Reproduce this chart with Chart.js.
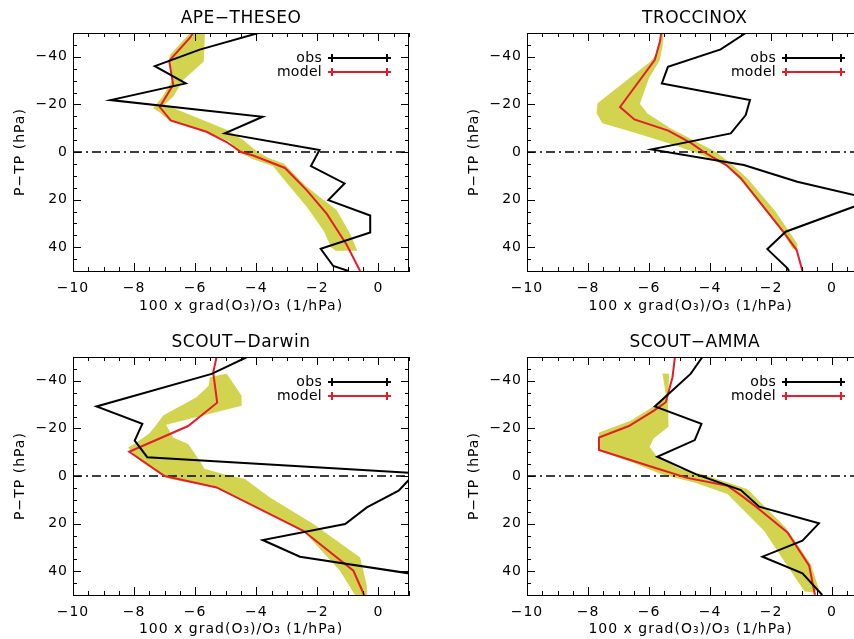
<!DOCTYPE html>
<html lang="en">
<head>
  <meta charset="UTF-8" />
  <title>Ozone gradient profiles</title>
  <script src="https://cdn.jsdelivr.net/npm/chart.js"></script>
  <style>
    html, body { margin: 0; padding: 0; background: #fff; overflow: hidden; }
    #wrap { position: relative; width: 854px; height: 639px; }
    .panel { position: absolute; }
  </style>
</head>
<body>
  <div id="wrap">
    <canvas class="panel" id="c1" width="427" height="320" style="left:0;top:0"></canvas>
    <canvas class="panel" id="c2" width="427" height="320" style="left:427px;top:0"></canvas>
    <canvas class="panel" id="c3" width="427" height="319" style="left:0;top:320px"></canvas>
    <canvas class="panel" id="c4" width="427" height="319" style="left:427px;top:320px"></canvas>
  </div>

  <script>
    // axis ticks
    const xTicks = [-10, -8, -6, -4, -2, 0];
    const yTicks = [-40, -20, 0, 20, 40];
    const zeroX = [-10, 1];
    const zeroP = [0, 0];

    // APE-THESEO
    const apeObsX = [-3.93, -5.85, -7.32, -6.31, -8.77, -3.79, -5.03, -1.93, -2.21, -1.11, -1.64, -0.27, -0.27, -1.89, -1.48, -0.98];
    const apeObsP = [-50, -43, -36.1, -28.8, -21.8, -14.8, -7.8, -0.8, 5.9, 13.2, 20.2, 26.7, 33.8, 40.7, 47.9, 50];
    const apeModX = [-6.07, -6.17, -6.85, -6.72, -7.16, -6.80, -5.63, -4.97, -4.5, -4.1, -3.06, -2.35, -1.69, -1.04, -0.6];
    const apeModP = [-50, -48, -38.3, -28.2, -18.9, -13.3, -8.5, -4.2, 0, 1.5, 6.7, 16, 26, 39, 50];
    const apeBandLX = [-6.17, -6.83, -6.86, -6.75, -7.07, -7.38, -7.2, -6.8, -5.63, -4.86, -4.6, -4.1, -3.45, -3.0, -2.35, -1.8, -1.55, -1.4];
    const apeBandLP = [-50, -40.8, -38, -30.3, -23.2, -18.4, -17, -12.7, -8.5, -4.3, 0, 3, 6, 13, 23, 33, 40, 41.5];
    const apeBandRX = [-5.68, -5.72, -6.39, -6.72, -7.0, -4.95, -4.43, -3.95, -3.6, -3.1, -2.35, -1.37, -0.93, -0.69];
    const apeBandRP = [-50, -38, -30.3, -23.2, -20, -9.2, -5, 0, 2.5, 4.8, 14.6, 24.4, 34.2, 41.5];

    // TROCCINOX
    const troObsX = [-2.83, -3.65, -5.38, -5.58, -2.69, -2.83, -3.32, -5.92, -2.89, -1.14, 1.35, -1.52, -2.12, -1.46, -1.41];
    const troObsP = [-50, -43.1, -35.8, -28.8, -21.8, -15.5, -7.8, -1.1, 5.5, 12.5, 20, 33.5, 40.8, 48.9, 50];
    const troModX = [-5.60, -5.64, -5.81, -6.95, -6.48, -5.37, -4.63, -4.2, -3.47, -2.99, -1.57, -1.16, -0.97];
    const troModP = [-50, -46.5, -38.7, -18.9, -13.7, -9, -3.8, 0, 5.5, 11, 34, 41.2, 50];
    const troBandLX = [-5.62, -5.72, -5.95, -7.69, -7.72, -7.53, -6.3, -5.2, -4.3, -3.45, -2.99, -1.6, -1.3];
    const troBandLP = [-50, -42, -38, -20.5, -16.3, -12.1, -7.5, -3, 1, 6, 12, 34, 40.5];
    const troBandRX = [-5.52, -5.55, -5.65, -6.0, -6.3, -6.05, -5.3, -4.4, -3.8, -3.3, -2.78, -1.85, -1.14, -1.12];
    const troBandRP = [-50, -45, -38.5, -31, -20.3, -16.2, -10, -4, 0, 5, 11, 25, 38.5, 41];

    // SCOUT-Darwin
    const darObsX = [-4.30, -5.46, -9.23, -7.73, -7.98, -7.57, 1.2, 0.66, -0.38, -1.09, -3.79, -2.57, 1.5];
    const darObsP = [-50, -42.9, -29.2, -21.9, -14.9, -7.9, -1.2, 6.2, 13.2, 20.2, 26.9, 33.9, 41.9];
    const darModX = [-5.30, -5.41, -5.28, -6.23, -8.16, -7.0, -5.30, -2.46, -0.82, -0.47];
    const darModP = [-50, -43.5, -30.8, -21, -10.2, 0, 4.8, 23, 39.8, 50];
    const darBandLX = [-4.97, -5.52, -5.55, -5.96, -7.05, -7.3, -7.5, -7.92, -8.2, -7.81, -7.05, -6.83, -5.30, -2.46, -1.26, -0.77];
    const darBandLP = [-43.1, -41.5, -38, -33.1, -25.4, -21, -18, -14.1, -12, -6.4, 0, 1.3, 4.8, 23, 39.8, 50];
    const darBandRX = [-4.97, -4.48, -4.48, -6.95, -6.72, -6.23, -5.85, -5.7, -5.0, -4.37, -3.55, -2.13, -0.6, -0.38, -0.38];
    const darBandRP = [-43.1, -33.7, -29.5, -21.5, -16.2, -13.4, -6.4, -3, -0.5, 1.3, 9, 20.2, 34.2, 46, 50];

    // SCOUT-AMMA
    const ammObsX = [-4.25, -4.63, -5.81, -4.28, -4.50, -5.73, -4.47, -2.99, -2.39, -0.43, -0.97, -2.28, -0.97, -0.32];
    const ammObsP = [-50, -43, -29.2, -21.9, -15.1, -8.1, -0.8, 5.9, 12.9, 19.9, 27.2, 33.9, 40.9, 50];
    const ammModX = [-5.15, -5.23, -5.45, -5.84, -6.66, -7.64, -7.64, -5.84, -4.75, -3.43, -2.89, -2.39, -1.46, -0.75, -0.56];
    const ammModP = [-50, -41.5, -31, -27.5, -21, -16.2, -10.9, -3.6, 0.8, 4.1, 9, 14, 23.7, 37.7, 50];
    const ammBandLX = [-5.56, -5.45, -5.73, -6.6, -7.64, -7.64, -6.6, -5.62, -4.52, -3.43, -2.23, -1.36, -0.9];
    const ammBandLP = [-43.1, -34.4, -30.2, -23.2, -18.3, -10.6, -6, -0.8, 2.7, 7.6, 23, 39.8, 48.5];
    const ammBandRX = [-5.34, -5.38, -5.36, -5.85, -5.98, -5.74, -5.0, -4.2, -2.78, -1.52, -0.70, -0.43, -0.6];
    const ammBandRP = [-43, -31.6, -20.7, -15.8, -12.3, -8.1, -3, -0.5, 5.5, 21.6, 37, 47.5, 49];

    const RED = '#e31e2a';
    const YELLOW = '#d2d450';
    const FONT = '"DejaVu Sans", sans-serif';

    Chart.defaults.font.family = FONT;
    Chart.defaults.font.size = 14;
    Chart.defaults.color = '#000';

    const minus = v => String(v).replace('-', '\u2212');
    const pts = (xs, ps) => xs.map((x, i) => ({ x: x, y: ps[i] }));

    // box with inward ticks, title and legend, IDL style
    const frame = {
      id: 'frame',
      beforeDraw(chart) {
        // the original font is set wide
        chart.ctx.letterSpacing = '1px';
      },
      afterDraw(chart, args, opts) {
        const { ctx, chartArea: a, scales: { x, y } } = chart;
        const closed = x.max >= 1;
        ctx.save();
        ctx.strokeStyle = '#000';
        ctx.lineWidth = 1;
        ctx.beginPath();
        ctx.moveTo(a.right + 1, a.top + 0.5);
        ctx.lineTo(a.left + 0.5, a.top + 0.5);
        ctx.lineTo(a.left + 0.5, a.bottom + 0.5);
        ctx.lineTo(a.right + 1, a.bottom + 0.5);
        if (closed) {
          ctx.moveTo(a.right - 0.5, a.top);
          ctx.lineTo(a.right - 0.5, a.bottom + 1);
        }
        for (let v = -10; v <= x.max + 1e-6; v += 0.5) {
          const px = Math.round(x.getPixelForValue(v)) + 0.5;
          const len = Math.abs(v % 2) < 1e-6 ? 8 : 4;
          ctx.moveTo(px, a.bottom); ctx.lineTo(px, a.bottom - len);
          ctx.moveTo(px, a.top); ctx.lineTo(px, a.top + len);
        }
        for (let v = -50; v <= 50; v += 5) {
          const py = Math.round(y.getPixelForValue(v)) + 0.5;
          const len = v % 20 === 0 ? 8 : 4;
          ctx.moveTo(a.left, py); ctx.lineTo(a.left + len, py);
          if (closed) { ctx.moveTo(a.right, py); ctx.lineTo(a.right - len, py); }
        }
        ctx.stroke();

        // title, centred on the full -10..1 box
        const cx = (x.getPixelForValue(-10) + x.getPixelForValue(1)) / 2;
        ctx.fillStyle = '#000';
        ctx.letterSpacing = '0.5px';
        ctx.font = '17px ' + FONT;
        ctx.textAlign = 'center';
        ctx.textBaseline = 'middle';
        ctx.fillText(opts.title, cx, a.top - 14);

        // legend
        const items = [['obs', '#000', 25], ['model', RED, 39]];
        ctx.letterSpacing = '0.3px';
        ctx.font = '14px ' + FONT;
        ctx.textAlign = 'right';
        items.forEach(([label, color, dy]) => {
          const ly = a.top + dy;
          const x0 = a.left + 259, x1 = a.left + 314;
          ctx.fillStyle = '#000';
          ctx.fillText(label, a.left + 249, ly);
          ctx.strokeStyle = color;
          ctx.lineWidth = 2;
          ctx.beginPath();
          ctx.moveTo(x0, ly); ctx.lineTo(x1, ly);
          [x0, x1].forEach(px => {
            ctx.moveTo(px - 4, ly); ctx.lineTo(px + 4, ly);
            ctx.moveTo(px, ly - 4); ctx.lineTo(px, ly + 4);
          });
          ctx.stroke();
        });
        ctx.restore();
      }
    };

    function makePanel(id, title, obsX, obsP, modX, modP, bLX, bLP, bRX, bRP, lay) {
      const band = pts(bLX, bLP).concat(pts(bRX, bRP).reverse());
      new Chart(document.getElementById(id), {
        type: 'scatter',
        data: {
          datasets: [
            { data: band, fill: 'shape', backgroundColor: YELLOW, borderWidth: 0, borderColor: YELLOW, pointRadius: 0, showLine: true, order: 3 },
            { data: pts(zeroX, zeroP), borderColor: '#000', borderWidth: 1.5, borderDash: [9, 4, 2, 4], pointRadius: 0, showLine: true, order: 2 },
            { data: pts(modX, modP), borderColor: RED, borderWidth: 2, pointRadius: 0, showLine: true, order: 1 },
            { data: pts(obsX, obsP), borderColor: '#000', borderWidth: 2, pointRadius: 0, showLine: true, order: 0 }
          ]
        },
        options: {
          responsive: false,
          animation: false,
          events: [],
          layout: { padding: { left: lay.left, top: lay.top, right: lay.right, bottom: 0 } },
          plugins: {
            legend: { display: false },
            tooltip: { enabled: false },
            frame: { title: title }
          },
          scales: {
            x: {
              type: 'linear',
              min: -10,
              max: lay.xMax,
              afterBuildTicks: s => { s.ticks = xTicks.map(v => ({ value: v })); },
              afterFit: s => { s.height = lay.xh; },
              grid: { display: false, drawTicks: false },
              border: { display: false },
              ticks: { padding: 9, autoSkip: false, maxRotation: 0, callback: v => minus(v) },
              title: { display: true, text: '100 x grad(O\u2083)/O\u2083 (1/hPa)', padding: { top: 0, bottom: lay.tpb } }
            },
            y: {
              type: 'linear',
              reverse: true,
              min: -50,
              max: 50,
              afterBuildTicks: s => { s.ticks = yTicks.map(v => ({ value: v })); },
              afterFit: s => { s.width = 73; },
              grid: { display: false, drawTicks: false },
              border: { display: false },
              ticks: { padding: 5, autoSkip: false, callback: v => minus(v) },
              title: { display: true, text: 'P\u2212TP (hPa)', padding: { top: 12, bottom: 0 } }
            }
          }
        },
        plugins: [frame]
      });
    }

    const topL = { left: 0, top: 33, right: 18, xMax: 1, xh: 49, tpb: 5 };
    const topR = { left: 27, top: 33, right: 0, xMax: 0.72, xh: 49, tpb: 5 };
    const botL = { left: 0, top: 37, right: 18, xMax: 1, xh: 44, tpb: 1 };
    const botR = { left: 27, top: 37, right: 0, xMax: 0.72, xh: 44, tpb: 1 };

    makePanel('c1', 'APE\u2212THESEO', apeObsX, apeObsP, apeModX, apeModP, apeBandLX, apeBandLP, apeBandRX, apeBandRP, topL);
    makePanel('c2', 'TROCCINOX', troObsX, troObsP, troModX, troModP, troBandLX, troBandLP, troBandRX, troBandRP, topR);
    makePanel('c3', 'SCOUT\u2212Darwin', darObsX, darObsP, darModX, darModP, darBandLX, darBandLP, darBandRX, darBandRP, botL);
    makePanel('c4', 'SCOUT\u2212AMMA', ammObsX, ammObsP, ammModX, ammModP, ammBandLX, ammBandLP, ammBandRX, ammBandRP, botR);
  </script>
</body>
</html>
